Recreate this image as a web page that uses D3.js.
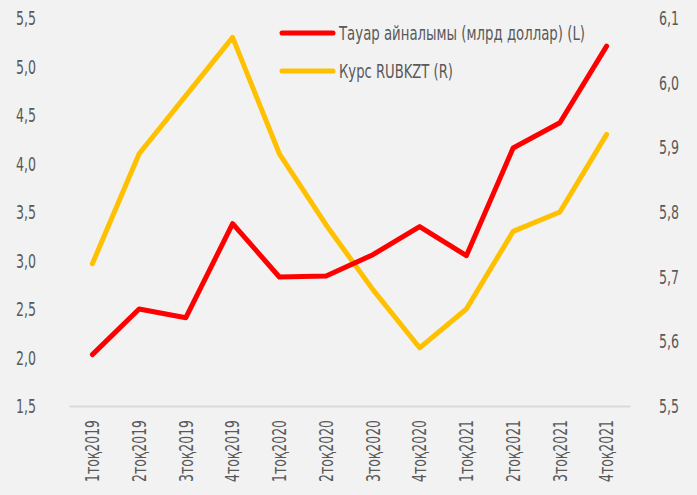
<!DOCTYPE html>
<html lang="en">
<head>
<meta charset="UTF-8">
<title>Тауар айналымы</title>
<script src="https://d3js.org/d3.v7.min.js"></script>
<style>
  body { margin: 0; background: #f2f2f2; }
  svg { display: block; }
  text { font-family: "Liberation Sans Narrow", "DejaVu Sans Condensed", sans-serif; fill: #595959; }
</style>
</head>
<body>
<script>
  // data
  const quarters = ["1тоқ2019", "2тоқ2019", "3тоқ2019", "4тоқ2019",
                    "1тоқ2020", "2тоқ2020", "3тоқ2020", "4тоқ2020",
                    "1тоқ2021", "2тоқ2021", "3тоқ2021", "4тоқ2021"];
  const turnover = [2.03, 2.50, 2.41, 3.38, 2.83, 2.84, 3.06, 3.35, 3.05, 4.16, 4.42, 5.21];
  const rubkzt = [5.72, 5.89, 5.98, 6.07, 5.89, 5.78, 5.68, 5.59, 5.65, 5.77, 5.80, 5.92];
  const leftTicks = [1.5, 2.0, 2.5, 3.0, 3.5, 4.0, 4.5, 5.0, 5.5];
  const rightTicks = [5.5, 5.6, 5.7, 5.8, 5.9, 6.0, 6.1];
  const seriesNames = ["Тауар айналымы (млрд доллар) (L)", "Курс RUBKZT (R)"];
  const seriesColors = ["#ff0000", "#ffc000"];

  const width = 697, height = 495;
  const margin = {top: 18, right: 67, bottom: 89, left: 69};
  const fontSize = 19;

  const svg = d3.select("body").append("svg")
    .attr("width", width)
    .attr("height", height);

  const x = d3.scaleBand()
    .domain(quarters)
    .range([margin.left, width - margin.right]);

  const yL = d3.scaleLinear().domain([1.5, 5.5]).range([height - margin.bottom, margin.top]);
  const yR = d3.scaleLinear().domain([5.5, 6.1]).range([height - margin.bottom, margin.top]);

  const fmt = d => d3.format(".1f")(d).replace(".", ",");

  // condensed look: squeeze glyphs to the widths seen in the chart
  const squeeze = (sel, len) => sel
    .attr("textLength", len)
    .attr("lengthAdjust", "spacingAndGlyphs");

  // left axis
  svg.append("g")
    .attr("transform", `translate(${margin.left - 33},0)`)
    .call(d3.axisLeft(yL).tickValues(leftTicks).tickFormat(fmt).tickSize(0).tickPadding(0))
    .call(g => g.select(".domain").remove())
    .selectAll("text").attr("font-size", fontSize).attr("dy", "0.35em")
    .call(squeeze, 20);

  // right axis
  svg.append("g")
    .attr("transform", `translate(${width - margin.right + 29},0)`)
    .call(d3.axisRight(yR).tickValues(rightTicks).tickFormat(fmt).tickSize(0).tickPadding(0))
    .call(g => g.select(".domain").remove())
    .selectAll("text").attr("font-size", fontSize).attr("dy", "0.35em")
    .call(squeeze, 20);

  // bottom axis
  const xAxis = svg.append("g")
    .attr("transform", `translate(0,${height - margin.bottom})`)
    .call(d3.axisBottom(x).tickSize(0).tickSizeOuter(0).tickPadding(0));
  xAxis.select(".domain").attr("stroke", "#d9d9d9").attr("stroke-width", 2);
  xAxis.selectAll("text")
    .attr("font-size", fontSize)
    .attr("text-anchor", "end")
    .attr("transform", "rotate(-90)")
    .attr("x", -14)
    .attr("y", 0)
    .attr("dy", "0.35em")
    .call(squeeze, 62);

  // lines
  const lineL = d3.line().x((d, i) => x(quarters[i]) + x.bandwidth() / 2).y(d => yL(d));
  const lineR = d3.line().x((d, i) => x(quarters[i]) + x.bandwidth() / 2).y(d => yR(d));

  svg.append("path")
    .datum(rubkzt)
    .attr("d", lineR)
    .attr("fill", "none")
    .attr("stroke", seriesColors[1])
    .attr("stroke-width", 5)
    .attr("stroke-linecap", "round")
    .attr("stroke-linejoin", "round");

  svg.append("path")
    .datum(turnover)
    .attr("d", lineL)
    .attr("fill", "none")
    .attr("stroke", seriesColors[0])
    .attr("stroke-width", 5)
    .attr("stroke-linecap", "round")
    .attr("stroke-linejoin", "round");

  // legend
  const legendLens = [246, 114];
  const legend = svg.append("g").attr("transform", "translate(282,33)");
  const item = legend.selectAll("g")
    .data(seriesNames)
    .enter()
    .append("g")
    .attr("transform", (d, i) => `translate(0,${i * 38})`);
  item.append("line")
    .attr("x1", 0).attr("x2", 51)
    .attr("stroke", (d, i) => seriesColors[i])
    .attr("stroke-width", 5)
    .attr("stroke-linecap", "round");
  item.append("text")
    .attr("x", 57)
    .attr("dy", "0.35em")
    .attr("font-size", fontSize)
    .attr("textLength", (d, i) => legendLens[i])
    .attr("lengthAdjust", "spacingAndGlyphs")
    .text(d => d);
</script>
</body>
</html>
